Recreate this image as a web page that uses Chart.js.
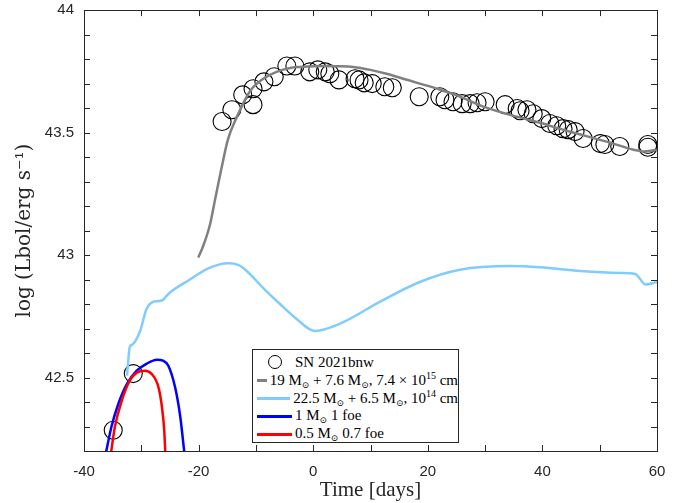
<!DOCTYPE html>
<html>
<head>
<meta charset="utf-8">
<script src="https://cdn.jsdelivr.net/npm/chart.js@4/dist/chart.umd.min.js"></script>
<style>
  html, body { margin: 0; padding: 0; background: #fff; }
  #wrap { position: relative; width: 685px; height: 503px; }
  #legend {
    position: absolute; left: 252px; top: 349px; width: 207px; height: 94px;
    box-sizing: border-box; border: 1px solid #262626; background: #fff;
    font-family: "Liberation Serif", "DejaVu Serif", serif; font-size: 15px; color: #000;
    padding-top: 3px;
  }
  .row { display: flex; align-items: center; height: 18px; white-space: nowrap; }
  .sym { width: 35px; height: 18px; margin-left: 4px; margin-right: 3px; position: relative; }
  .sym .ln { position: absolute; left: 0; right: 0; top: 8px; height: 2.5px; }
  .sym .ci { position: absolute; left: 11px; top: 2px; width: 14px; height: 14px; border: 1.3px solid #000; border-radius: 50%; box-sizing: border-box; }
  sub { font-size: 9px; vertical-align: -3px; }
  sup { font-size: 10px; vertical-align: 6px; }
</style>
</head>
<body>
<div id="wrap">
  <canvas id="chart" width="685" height="503"></canvas>
  <div id="legend"></div>
</div>
<script>
// SN 2021bnw observed bolometric luminosity
const obsTime = [-34.9, -31.4, -15.9, -14.2, -12.3, -10.5, -10.5, -8.6, -6.8, -4.6, -3.2, -0.6, 0.8, 2.1, 2.9, 4.5, 7.3, 8.0, 8.9, 10.3, 12.5, 13.8, 18.5, 22.1, 23.0, 24.4, 26.0, 27.4, 28.6, 30.0, 33.5, 35.6, 36.1, 37.3, 38.4, 39.9, 41.3, 42.5, 43.6, 44.5, 45.7, 47.1, 50.1, 50.9, 53.5, 58.4, 58.4];
const obsLum = [42.285, 42.516, 43.545, 43.593, 43.654, 43.614, 43.679, 43.707, 43.728, 43.772, 43.772, 43.748, 43.756, 43.748, 43.74, 43.715, 43.72, 43.715, 43.703, 43.70, 43.687, 43.683, 43.646, 43.646, 43.634, 43.626, 43.618, 43.618, 43.622, 43.626, 43.614, 43.598, 43.589, 43.593, 43.577, 43.557, 43.537, 43.528, 43.516, 43.512, 43.504, 43.476, 43.455, 43.451, 43.443, 43.451, 43.44];

// 19 Msun + 7.6 Msun CSM model
const grayTime = [-20.05, -19.2, -18.0, -17.1, -16.0, -14.9, -13.4, -11.0, -8.7, -6.4, -4.0, -1.8, 1.2, 4.0, 7.0, 10.0, 12.8, 15.7, 18.6, 21.8, 25.0, 29.7, 35.5, 39.6, 43.1, 45.4, 51.2, 55.9, 57.6, 60];
const grayLum = [42.99, 43.037, 43.126, 43.23, 43.355, 43.47, 43.56, 43.67, 43.72, 43.748, 43.764, 43.768, 43.772, 43.771, 43.768, 43.756, 43.74, 43.72, 43.70, 43.678, 43.653, 43.606, 43.565, 43.54, 43.515, 43.50, 43.463, 43.43, 43.423, 43.43];

// 22.5 Msun + 6.5 Msun model
const blueLtTime = [-32.5, -32.0, -31.6, -30.2, -29.1, -28.2, -27.0, -26.2, -25.6, -25.0, -21.5, -18.6, -16.3, -14.8, -13.1, -11.6, -8.8, -5.8, -2.9, 0.3, 4.7, 11.7, 18.6, 25.6, 34.3, 39.6, 46.6, 53.5, 56.2, 58.0, 60];
const blueLtLum = [42.508, 42.626, 42.634, 42.69, 42.78, 42.806, 42.812, 42.817, 42.833, 42.847, 42.90, 42.943, 42.962, 42.966, 42.96, 42.935, 42.867, 42.80, 42.739, 42.69, 42.72, 42.81, 42.89, 42.94, 42.955, 42.95, 42.935, 42.927, 42.923, 42.88, 42.89];

// 1 Msun 1 foe
const blueTime = [-36.2, -35.2, -34.0, -32.5, -30.8, -29.1, -27.3, -26.2, -25.3, -24.1, -23.2, -22.5];
const blueLum = [42.19, 42.30, 42.393, 42.474, 42.528, 42.556, 42.573, 42.569, 42.549, 42.46, 42.34, 42.196];

// 0.5 Msun 0.7 foe
const redTime = [-35.3, -34.6, -33.4, -32.0, -30.8, -29.4, -28.2, -27.0, -26.4, -26.0, -25.8];
const redLum = [42.19, 42.30, 42.406, 42.488, 42.52, 42.528, 42.515, 42.46, 42.38, 42.285, 42.19];

const legendLabels = [
  "SN 2021bnw",
  "19 M<sub>⊙</sub> + 7.6 M<sub>⊙</sub>, 7.4 × 10<sup>15</sup> cm",
  "22.5 M<sub>⊙</sub> + 6.5 M<sub>⊙</sub>, 10<sup>14</sup> cm",
  "1 M<sub>⊙</sub> 1 foe",
  "0.5 M<sub>⊙</sub> 0.7 foe",
];
const lineColors = ["#000000", "#808080", "#80ccff", "#0000ff", "#ff0000"];

const xTicks = [-40, -20, 0, 20, 40, 60];
const yTicks = [42.5, 43, 43.5, 44];

function toPoints(xs, ys) {
  return xs.map((x, i) => ({ x: x, y: ys[i] }));
}
function plain(s) {
  return s.replace(/<[^>]+>/g, "");
}

function lineSet(idx, xs, ys, order) {
  return {
    label: plain(legendLabels[idx]),
    data: toPoints(xs, ys),
    showLine: true,
    borderColor: lineColors[idx],
    borderWidth: 2.5,
    pointRadius: 0,
    cubicInterpolationMode: "monotone",
    order: order,
  };
}

// MATLAB style box with inward ticks
const boxTicks = {
  id: "boxTicks",
  afterDatasetsDraw(chart) {
    const { ctx, chartArea: a, scales } = chart;
    ctx.save();
    ctx.strokeStyle = "#262626";
    ctx.lineWidth = 1;
    ctx.beginPath();
    scales.x.ticks.forEach((t) => {
      const px = Math.round(scales.x.getPixelForValue(t.value)) + 0.5;
      ctx.moveTo(px, a.bottom);
      ctx.lineTo(px, a.bottom - 6);
      ctx.moveTo(px, a.top);
      ctx.lineTo(px, a.top + 6);
    });
    scales.y.ticks.forEach((t) => {
      const py = Math.round(scales.y.getPixelForValue(t.value)) + 0.5;
      ctx.moveTo(a.left, py);
      ctx.lineTo(a.left + 6, py);
      ctx.moveTo(a.right, py);
      ctx.lineTo(a.right - 6, py);
    });
    ctx.stroke();
    ctx.strokeRect(Math.round(a.left) + 0.5, Math.round(a.top) + 0.5, Math.round(a.width), Math.round(a.height));
    ctx.restore();
  },
};

const near = (v, list) => list.some((t) => Math.abs(v - t) < 1e-6);

new Chart(document.getElementById("chart"), {
  type: "scatter",
  data: {
    datasets: [
      {
        label: legendLabels[0],
        data: toPoints(obsTime, obsLum),
        pointStyle: "circle",
        pointRadius: 9,
        pointBorderWidth: 1.1,
        pointBorderColor: "#000",
        pointBackgroundColor: "rgba(0,0,0,0)",
        order: 5,
      },
      lineSet(1, grayTime, grayLum, 4),
      lineSet(2, blueLtTime, blueLtLum, 3),
      lineSet(3, blueTime, blueLum, 2),
      lineSet(4, redTime, redLum, 1),
    ],
  },
  options: {
    responsive: false,
    animation: false,
    layout: { padding: { top: 8, right: 28, left: 0, bottom: 0 } },
    plugins: { legend: { display: false }, tooltip: { enabled: false } },
    scales: {
      x: {
        type: "linear",
        min: -40,
        max: 60,
        grid: { display: false, drawTicks: false },
        border: { display: false },
        afterFit: (s) => { s.height = 52; s.paddingLeft = 0; s.paddingRight = 0; },
        ticks: {
          stepSize: 10,
          autoSkip: false,
          maxRotation: 0,
          padding: 12,
          color: "#262626",
          font: { family: "Liberation Sans", size: 15 },
          callback: (v) => (near(v, xTicks) ? String(v) : ""),
        },
        title: {
          display: true,
          text: "Time [days]",
          color: "#262626",
          font: { family: "Liberation Serif", size: 21 },
          padding: { top: 0, bottom: 0 },
        },
      },
      y: {
        type: "linear",
        min: 42.2,
        max: 44,
        grid: { display: false, drawTicks: false },
        border: { display: false },
        afterFit: (s) => { s.width = 84; s.paddingTop = 0; s.paddingBottom = 0; },
        ticks: {
          stepSize: 0.1,
          autoSkip: false,
          padding: 10,
          color: "#262626",
          font: { family: "Liberation Sans", size: 15 },
          callback: (v) => (near(v, yTicks) ? String(Math.round(v * 10) / 10) : ""),
        },
        title: {
          display: true,
          text: "log (Lbol/erg s⁻¹)",
          color: "#262626",
          font: { family: "DejaVu Serif", size: 20 },
          padding: { top: 13, bottom: 0 },
        },
      },
    },
  },
  plugins: [boxTicks],
});

// legend box drawn over the plot area
document.getElementById("legend").innerHTML = legendLabels
  .map((lab, i) => {
    const sym = i === 0
      ? '<span class="ci"></span>'
      : `<span class="ln" style="background:${lineColors[i]}"></span>`;
    return `<div class="row"><span class="sym">${sym}</span><span>${lab}</span></div>`;
  })
  .join("");
</script>
</body>
</html>
